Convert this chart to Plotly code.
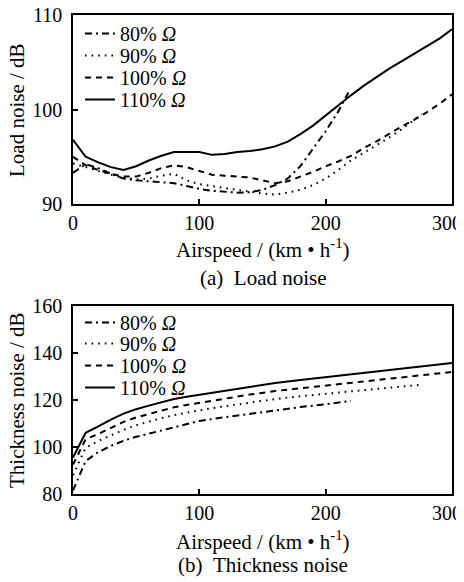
import plotly.graph_objects as go

# page body has an 8px default margin; figure is sized so that it fills the 464x582 window
OFF = 8
W, H = 464 - OFF, 582 - OFF
FONT = "Liberation Serif"

# ---------------- data ----------------
series_names = ["80% <i>Ω</i>", "90% <i>Ω</i>", "100% <i>Ω</i>", "110% <i>Ω</i>"]

# (a) Load noise
load_x80 = [0, 10, 20, 30, 40, 50, 60, 70, 80, 90, 100, 110, 120, 130, 140, 150, 160, 170, 180, 190, 200, 210, 218]
load_y80 = [93.3, 94.2, 93.8, 93.2, 92.7, 92.5, 92.4, 92.3, 92.2, 91.9, 91.6, 91.4, 91.3, 91.2, 91.25, 91.5, 92.0, 92.7, 94.0, 95.8, 97.7, 99.8, 101.8]
load_x90 = [0, 10, 20, 30, 40, 50, 60, 70, 80, 90, 100, 110, 120, 130, 140, 150, 160, 170, 180, 190, 200, 210, 220, 230, 240, 250, 260, 270, 276]
load_y90 = [94.3, 93.9, 93.5, 93.1, 92.8, 92.6, 92.7, 93.0, 93.2, 92.5, 92.1, 91.9, 91.7, 91.5, 91.3, 91.1, 91.0, 91.2, 91.5, 92.0, 92.7, 93.6, 94.6, 95.4, 96.2, 97.0, 97.9, 98.9, 99.5]
load_x100 = [0, 10, 20, 30, 40, 50, 60, 70, 80, 90, 100, 110, 120, 130, 140, 150, 160, 170, 180, 190, 200, 210, 220, 230, 240, 250, 260, 270, 280, 290, 300]
load_y100 = [95.0, 94.1, 93.6, 93.2, 92.9, 92.9, 93.3, 93.8, 94.1, 93.9, 93.5, 93.1, 93.0, 92.9, 92.8, 92.5, 92.2, 92.4, 92.9, 93.4, 94.0, 94.5, 95.1, 95.9, 96.6, 97.4, 98.2, 98.9, 99.7, 100.6, 101.6]
load_x110 = [0, 10, 20, 30, 40, 50, 60, 70, 80, 90, 100, 110, 120, 130, 140, 150, 160, 170, 180, 190, 200, 210, 220, 230, 240, 250, 260, 270, 280, 290, 300]
load_y110 = [96.8, 95.0, 94.4, 93.9, 93.6, 94.0, 94.6, 95.1, 95.5, 95.5, 95.5, 95.2, 95.3, 95.5, 95.6, 95.8, 96.1, 96.6, 97.4, 98.3, 99.4, 100.5, 101.5, 102.5, 103.4, 104.3, 105.1, 105.9, 106.7, 107.5, 108.5]

# (b) Thickness noise
thk_x80 = [0, 10, 20, 30, 40, 50, 60, 70, 80, 90, 100, 120, 140, 160, 180, 200, 220]
thk_y80 = [81.5, 94.0, 97.8, 100.4, 102.6, 104.3, 105.6, 107.0, 108.3, 109.7, 111.0, 112.6, 114.1, 115.6, 116.9, 118.1, 119.5]
thk_x90 = [0, 10, 20, 30, 40, 50, 60, 70, 80, 90, 100, 120, 140, 160, 180, 200, 220, 240, 260, 275]
thk_y90 = [88.0, 99.6, 102.5, 105.0, 107.2, 109.2, 110.8, 112.2, 113.5, 114.6, 115.5, 117.2, 118.8, 120.3, 121.5, 122.6, 123.7, 124.7, 125.6, 126.3]
thk_x100 = [0, 10, 20, 30, 40, 50, 60, 70, 80, 90, 100, 120, 140, 160, 180, 200, 220, 240, 260, 280, 300]
thk_y100 = [92.5, 103.2, 105.5, 108.0, 110.6, 112.5, 114.0, 115.5, 116.8, 117.8, 118.7, 120.5, 122.2, 123.7, 124.9, 125.9, 127.2, 128.4, 129.6, 130.7, 131.8]
thk_x110 = [0, 10, 20, 30, 40, 50, 60, 70, 80, 90, 100, 120, 140, 160, 180, 200, 220, 240, 260, 280, 300]
thk_y110 = [95.5, 106.0, 108.7, 111.6, 114.1, 116.0, 117.5, 119.0, 120.3, 121.3, 122.1, 124.0, 125.6, 127.1, 128.4, 129.6, 130.9, 132.0, 133.2, 134.4, 135.6]

x_ticks = [0, 100, 200, 300]
x_tick_labels = ["0", "100", "200", "300"]
load_ticks = [90, 100, 110]
thk_ticks = [80, 100, 120, 140, 160]

# ---------------- styling ----------------
dashes = ["7px,4px,2px,4px", "1.6px,5px", "6px,5px", "solid"]
widths = [2, 2, 2, 2]
# last x label is nudged left (as in the original) so it stays inside the page
x_tick_text = x_tick_labels[:-1] + [x_tick_labels[-1] + "\u00a0\u00a0"]


def px(x):
    return (x - OFF) / W


def py(y):
    return 1 - (y - OFF) / H


fig = go.Figure()

load_sets = [(load_x80, load_y80), (load_x90, load_y90), (load_x100, load_y100), (load_x110, load_y110)]
thk_sets = [(thk_x80, thk_y80), (thk_x90, thk_y90), (thk_x100, thk_y100), (thk_x110, thk_y110)]

# row centres of the legend entries (page pixels)
leg_top_y = [33, 55, 77, 99]
leg_bot_y = [322, 343, 365, 387]
ROW_OFF = 19  # legend box top -> entry centre

legends = {}
k = 1
for i, (xs, ys) in enumerate(load_sets):
    name = "legend" if k == 1 else f"legend{k}"
    fig.add_trace(go.Scatter(x=xs, y=ys, mode="lines", name=series_names[i], showlegend=True,
                             line=dict(color="black", width=widths[i], dash=dashes[i]),
                             xaxis="x", yaxis="y", legend=name))
    legends[name] = leg_top_y[i]
    k += 1
for i, (xs, ys) in enumerate(thk_sets):
    name = f"legend{k}"
    fig.add_trace(go.Scatter(x=xs, y=ys, mode="lines", name=series_names[i], showlegend=True,
                             line=dict(color="black", width=widths[i], dash=dashes[i]),
                             xaxis="x2", yaxis="y2", legend=name))
    legends[name] = leg_bot_y[i]
    k += 1

legend_layout = {}
for name, yc in legends.items():
    legend_layout[name] = dict(x=px(80), y=py(yc - ROW_OFF), xanchor="left", yanchor="top",
                               bgcolor="rgba(0,0,0,0)", borderwidth=0,
                               font=dict(family=FONT, size=20, color="black"),
                               itemwidth=30, tracegroupgap=0, visible=True)

xdom = [px(73), px(452)]
axis_common = dict(showgrid=False, zeroline=False, showline=True, linecolor="black", linewidth=1.5,
                   mirror=True, ticks="inside", ticklen=5, tickwidth=1.5, tickcolor="black",
                   automargin=False, ticklabeloverflow="allow",
                   tickfont=dict(family=FONT, size=20, color="black"))

fig.update_layout(
    width=W, height=H,
    margin=dict(l=0, r=0, t=0, b=0, autoexpand=False),
    showlegend=True,
    font=dict(family=FONT, size=20, color="black"),
    paper_bgcolor="white", plot_bgcolor="white",
    xaxis=dict(domain=xdom, range=[0, 300], tickvals=x_ticks, ticktext=x_tick_text, anchor="y", **axis_common),
    yaxis=dict(domain=[py(204), py(15)], range=[90, 110], tickvals=load_ticks, anchor="x",
               ticklabelstandoff=5, **axis_common),
    xaxis2=dict(domain=xdom, range=[0, 300], tickvals=x_ticks, ticktext=x_tick_text, anchor="y2", **axis_common),
    yaxis2=dict(domain=[py(494), py(305.5)], range=[80, 160], tickvals=thk_ticks, anchor="x2",
                ticklabelstandoff=5, **axis_common),
    **legend_layout,
)

tf = dict(family=FONT, size=21, color="black")
cx = px(263)
annots = [
    dict(text="Airspeed / (km • h<sup>-1</sup>)", x=cx, y=py(248)),
    dict(text="(a)\u00a0\u00a0Load noise", x=cx, y=py(278)),
    dict(text="Airspeed / (km • h<sup>-1</sup>)", x=cx, y=py(540)),
    dict(text="(b)\u00a0\u00a0Thickness noise", x=cx, y=py(565)),
    dict(text="Load noise / dB", x=px(17), y=py(110), textangle=-90),
    dict(text="Thickness noise / dB", x=px(17), y=py(400), textangle=-90),
]
for a in annots:
    fig.add_annotation(xref="paper", yref="paper", showarrow=False, font=tf,
                       xanchor="center", yanchor="middle", **a)

fig.write_html("out.html")
